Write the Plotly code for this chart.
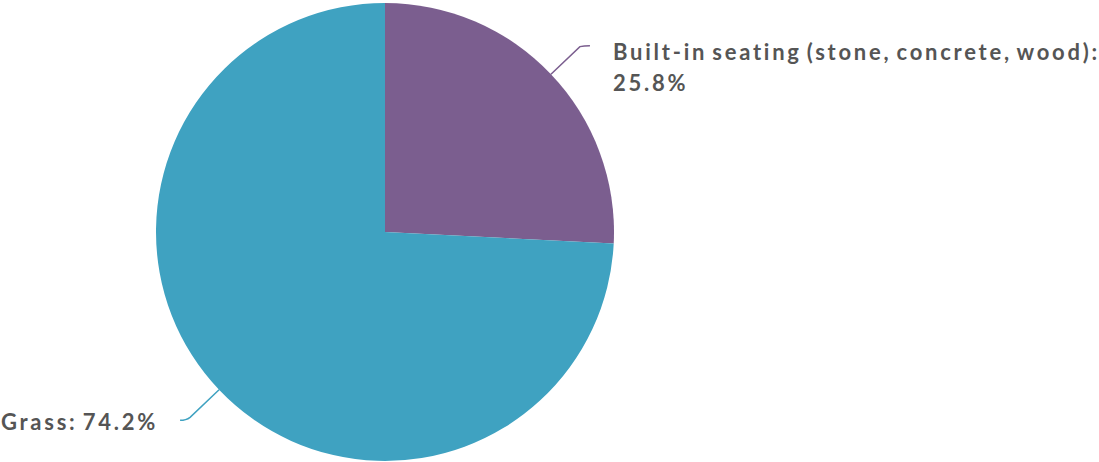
import math
import plotly.graph_objects as go

labels = ["Built-in seating (stone, concrete, wood)", "Grass"]
values = [25.8, 74.2]
colors = ["#7b5e8f", "#3fa2c1"]

W, H = 1099, 462              # figure size
CX, CY, R = 385, 232, 229     # pie centre/radius in screen px
FS, LS, WS = 22, 2.75, -3     # font size, letter spacing, word spacing
TXT = "#555555"

def px2paper(x, y):
    return x / W, 1 - y / H

fig = go.Figure()
x0d, y1d = px2paper(CX - R, CY - R)
x1d, y0d = px2paper(CX + R, CY + R)
fig.add_trace(go.Pie(
    labels=labels, values=values, sort=False, direction="clockwise",
    marker=dict(colors=colors, line=dict(width=0)),
    textinfo="none", hoverinfo="label+percent", showlegend=False,
    domain=dict(x=[x0d, x1d], y=[max(0, y0d), min(1, y1d)]),
))

total = sum(values)
shapes, annotations = [], []

def add_text(text, x, y, anchor):
    xx = x if anchor == "left" else x + LS
    px, py = px2paper(xx, y)
    annotations.append(dict(x=px, y=py, xref="paper", yref="paper", text=f"<b>{text}</b>",
                            showarrow=False, xanchor=anchor, yanchor="middle", align=anchor,
                            font=dict(family="Lato", size=FS, color=TXT)))

cum = 0
for lab, v, col in zip(labels, values, colors):
    mid = (cum + v / 2) / total * 2 * math.pi
    cum += v
    sx, sy = math.sin(mid), -math.cos(mid)
    side = 1 if sx >= 0 else -1
    x0, y0 = CX + R * sx, CY + R * sy
    x1, y1 = CX + (R + 40) * sx, CY + (R + 40) * sy
    x2, y2 = x1 + side * 10, y1 + (-1 if sy < 0 else 3)
    p0, p1, p2 = px2paper(x0, y0), px2paper(x1, y1), px2paper(x2, y2)
    pc = px2paper(x1 + side * 4, y2)
    shapes.append(dict(type="path", xref="paper", yref="paper",
                       path=f"M {p0[0]},{p0[1]} L {p1[0]},{p1[1]} Q {pc[0]},{pc[1]} {p2[0]},{p2[1]}",
                       line=dict(color=col, width=1.5)))
    pct = f"{v / total * 100:.1f}%"
    if side > 0:
        add_text(f"{lab}:", x2 + 21, y2 + 6, "left")
        add_text(pct, x2 + 21, y2 + 37, "left")
    else:
        add_text(f"{lab}: {pct}", x2 - 23, y2 + 1, "right")

fig.update_layout(width=W, height=H, margin=dict(l=0, r=0, t=0, b=0),
                  paper_bgcolor="white", plot_bgcolor="white",
                  shapes=shapes, annotations=annotations)
fig.write_html("out.html", config={"displayModeBar": False},
               post_script=("document.body.style.margin='0';"
                            "document.querySelectorAll('.annotation-text').forEach(function(e){"
                            f"e.style.letterSpacing='{LS}px';e.style.wordSpacing='{WS}px';}});"))
